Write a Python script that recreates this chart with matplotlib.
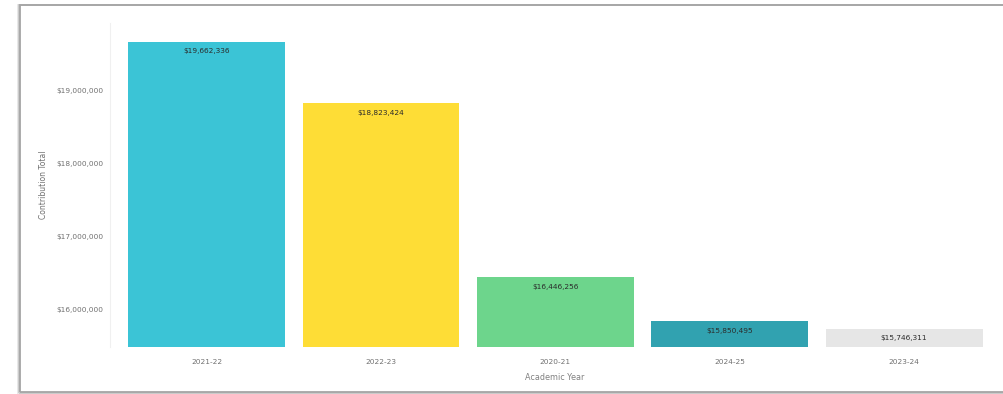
import matplotlib.pyplot as plt
from matplotlib.patches import Rectangle
from matplotlib.ticker import FuncFormatter

# contribution totals per academic year, sorted high to low
years = ['2021-22', '2022-23', '2020-21', '2024-25', '2023-24']
totals = [19662336, 18823424, 16446256, 15850495, 15746311]
colors = ['#3bc4d6', '#fedd36', '#6dd58c', '#31a2b0', '#e6e6e6']
yticks = [16000000, 17000000, 18000000, 19000000]

W, H = 1004, 394
fig = plt.figure(figsize=(W / 100, H / 100), dpi=100)
fig.patch.set_facecolor('white')

# card frame with a soft shadow on the left and bottom
for off, c in [(3, '#e6e6e6'), (2, '#c8c8c8'), (1, '#a5a5a5')]:
    fig.add_artist(Rectangle(((21 - off) / W, (H - 391 - off) / H), 1.2, (391 - 5 + off) / H,
                             transform=fig.transFigure, facecolor='none',
                             edgecolor=c, lw=1.3, zorder=0))
fig.add_artist(Rectangle((22 / W, (H - 389) / H), 1.0, (389 - 6) / H,
                         transform=fig.transFigure, facecolor='white',
                         edgecolor='none', zorder=0.5))

ax = fig.add_axes([110 / W, (H - 347) / H, (1000 - 110) / W, (347 - 23) / H])
ax.set_zorder(2)
ax.set_facecolor('none')
x = range(len(years))
bars = ax.bar(x, totals, width=0.9, color=colors, zorder=2)

ax.set_xlim(-0.554, len(years) - 0.45)
ax.set_ylim(15495000, 19915000)
ax.set_yticks(yticks)
ax.yaxis.set_major_formatter(FuncFormatter(lambda v, p: f'${v:,.0f}'))
ax.set_xticks(list(x))
ax.set_xticklabels(years)
ax.tick_params(axis='both', length=0, labelsize=5.3, labelcolor='#707070')
ax.tick_params(axis='y', pad=5)
ax.tick_params(axis='x', pad=9)

for s in ['top', 'right', 'bottom']:
    ax.spines[s].set_visible(False)
ax.spines['left'].set_color('#f0f0f0')
ax.spines['left'].set_linewidth(0.8)

for b, v in zip(bars, totals):
    ax.annotate(f'${v:,.0f}', (b.get_x() + b.get_width() / 2, v),
                xytext=(0, -7), textcoords='offset points',
                ha='center', va='center', fontsize=5.3, color='#2b2b2b', zorder=3)

ax.set_ylabel('Contribution Total', fontsize=5.5, color='#707070')
ax.yaxis.set_label_coords(-62 / 890, 0.5)
ax.set_xlabel('Academic Year', fontsize=5.8, color='#808080')
ax.xaxis.set_label_coords(0.5, -26 / 324)

fig.savefig('out.png', dpi=100, facecolor='white')
